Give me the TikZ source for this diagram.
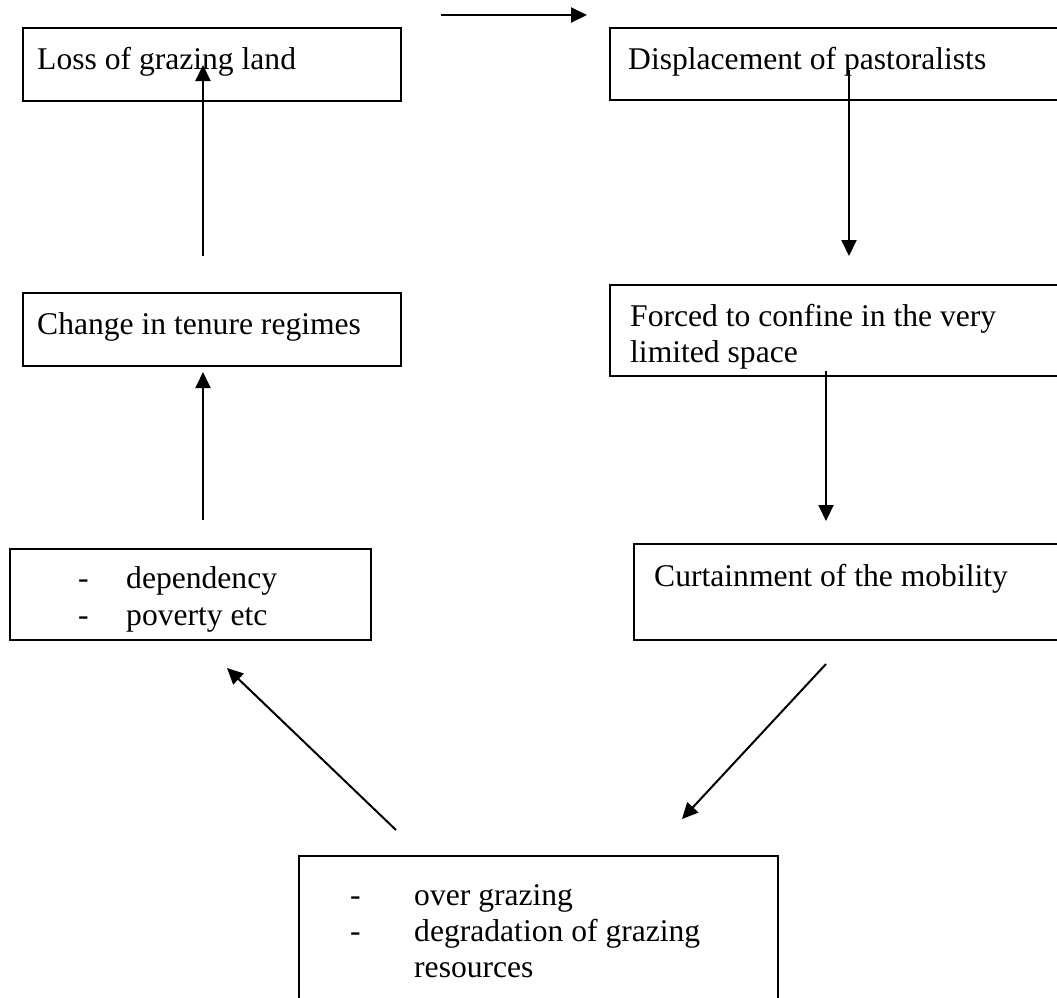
\documentclass[tikz,border=0pt]{standalone}
\usepackage{fontspec}
\setmainfont{Liberation Serif}
\usetikzlibrary{arrows.meta}
\begin{document}
\begin{tikzpicture}[x=1pt,y=-1pt,
  boxshape/.style={draw, line width=2pt, rectangle, inner sep=0pt, anchor=north west},
  lbl/.style={anchor=base west, inner sep=0pt, font=\fontsize{31.6}{37}\selectfont},
  conn/.style={line width=2pt, -{Triangle[length=16pt,width=15pt]}}]
\useasboundingbox (0,0) rectangle (1057,997);
\clip (0,0) rectangle (1057,997);
% boxes
\node[boxshape, minimum width=378pt, minimum height=73pt] (bA) at (22,27) {};
\node[boxshape, minimum width=470pt, minimum height=72pt] (bB) at (609,27) {};
\node[boxshape, minimum width=378pt, minimum height=73pt] (bC) at (22,292) {};
\node[boxshape, minimum width=470pt, minimum height=91pt] (bD) at (609,284) {};
\node[boxshape, minimum width=361pt, minimum height=91pt] (bE) at (9,548) {};
\node[boxshape, minimum width=450pt, minimum height=96pt] (bF) at (633,543) {};
\node[boxshape, minimum width=479pt, minimum height=170pt] (bG) at (298,855) {};
% texts
\node[lbl] (tA) at (37,69) {Loss of grazing land};
\node[lbl] (tB) at (628,69) {Displacement of pastoralists};
\node[lbl] (tC) at (37,334) {Change in tenure regimes};
\node[lbl] (tD1) at (630,326) {Forced to confine in the very};
\node[lbl] (tD2) at (630,362) {limited space};
\node[lbl] (tE1a) at (78,588) {-};
\node[lbl] (tE1b) at (126,588) {dependency};
\node[lbl] (tE2a) at (78,625) {-};
\node[lbl] (tE2b) at (126,625) {poverty etc};
\node[lbl] (tF) at (654,586) {Curtainment of the mobility};
\node[lbl] (tG1a) at (350,905) {-};
\node[lbl] (tG1b) at (414,905) {over grazing};
\node[lbl] (tG2a) at (350,941) {-};
\node[lbl] (tG2b) at (414,941) {degradation of grazing};
\node[lbl] (tG3) at (414,977) {resources};
% connector end points
\coordinate (p1s) at (441,15);
\coordinate (p1e) at (587,15);
\coordinate (p2s) at (849,70);
\coordinate (p2e) at (849,256);
\coordinate (p3s) at (826,371);
\coordinate (p3e) at (826,521);
\coordinate (p4s) at (826,664);
\coordinate (p4e) at (682,819);
\coordinate (p5s) at (396,830);
\coordinate (p5e) at (227,668);
\coordinate (p6s) at (203,520);
\coordinate (p6e) at (203,372);
\coordinate (p7s) at (203,256);
\coordinate (p7e) at (203,65);
% connectors
\draw[conn] (p1s) -- (p1e);
\draw[conn] (p2s) -- (p2e);
\draw[conn] (p3s) -- (p3e);
\draw[conn] (p4s) -- (p4e);
\draw[conn] (p5s) -- (p5e);
\draw[conn] (p6s) -- (p6e);
\draw[conn] (p7s) -- (p7e);
\end{tikzpicture}
\end{document}
